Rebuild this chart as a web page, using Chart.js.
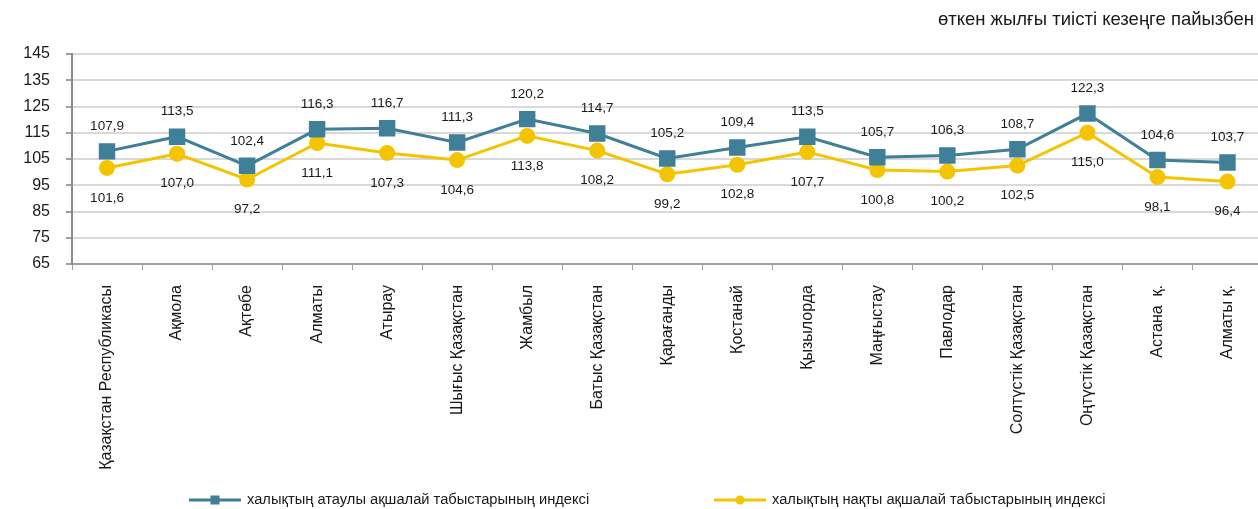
<!DOCTYPE html>
<html><head><meta charset="utf-8">
<script src="https://cdn.jsdelivr.net/npm/chart.js@4.4.1/dist/chart.umd.min.js"></script>
<style>
html,body{margin:0;padding:0;overflow:hidden;background:#fff}
#wrap{position:relative;width:1275px;height:509px}
</style></head>
<body><div id="wrap"><canvas id="c"></canvas></div>
<script>
const categories = ['Қазақстан Республикасы','Ақмола','Ақтөбе','Алматы','Атырау','Шығыс Қазақстан','Жамбыл','Батыс Қазақстан','Қарағанды','Қостанай','Қызылорда','Маңғыстау','Павлодар','Солтүстік Қазақстан','Оңтүстік Қазақстан','Астана  қ.','Алматы қ.'];
const nominalIndex = [107.9,113.5,102.4,116.3,116.7,111.3,120.2,114.7,105.2,109.4,113.5,105.7,106.3,108.7,122.3,104.6,103.7];
const realIndex = [101.6,107.0,97.2,111.1,107.3,104.6,113.8,108.2,99.2,102.8,107.7,100.8,100.2,102.5,115.0,98.1,96.4];
const yMin = 65, yMax = 145, yStep = 10;
const seriesNames = ['халықтың атаулы ақшалай табыстарының индексі','халықтың нақты ақшалай табыстарының индексі'];
const unitNote = 'өткен жылғы тиісті кезеңге пайызбен';

const FONT = "'Liberation Sans', Arial, sans-serif";
const BLUE = '#3f7f97';
const YELLOW = '#f5c400';

const fmt = v => v.toFixed(1).replace('.', ',');

const labelPlugin = {
  id: 'valueLabels',
  afterDatasetsDraw(chart) {
    const ctx = chart.ctx;
    ctx.save();
    ctx.font = '13.5px ' + FONT;
    ctx.fillStyle = '#1a1a1a';
    ctx.textAlign = 'center';
    ctx.textBaseline = 'middle';
    chart.data.datasets.forEach((ds, di) => {
      const meta = chart.getDatasetMeta(di);
      meta.data.forEach((pt, i) => {
        const off = di === 0 ? -25 : 30;
        ctx.fillText(fmt(ds.data[i]), pt.x, pt.y + off);
      });
    });
    ctx.restore();
  }
};

const extrasPlugin = {
  id: 'extras',
  afterDraw(chart) {
    const ctx = chart.ctx;
    ctx.save();
    ctx.font = '18.5px ' + FONT;
    ctx.fillStyle = '#1a1a1a';
    ctx.textAlign = 'right';
    ctx.textBaseline = 'alphabetic';
    ctx.fillText(unitNote, 1254, 25);
    const items = [{x: 189, ds: 0}, {x: 714, ds: 1}];
    const y = 500;
    ctx.font = '14.7px ' + FONT;
    ctx.textAlign = 'left';
    ctx.textBaseline = 'middle';
    items.forEach(it => {
      const ds = chart.data.datasets[it.ds];
      ctx.strokeStyle = ds.borderColor;
      ctx.lineWidth = 3;
      ctx.beginPath();
      ctx.moveTo(it.x, y); ctx.lineTo(it.x + 52, y); ctx.stroke();
      ctx.fillStyle = ds.borderColor;
      const cx = it.x + 26;
      if (ds.pointStyle === 'rect') {
        ctx.fillRect(cx - 4.5, y - 4.5, 9, 9);
      } else {
        ctx.beginPath(); ctx.arc(cx, y, 4.5, 0, Math.PI * 2); ctx.fill();
      }
      ctx.fillStyle = '#1a1a1a';
      ctx.fillText(seriesNames[it.ds], it.x + 58, y);
    });
    ctx.restore();
  }
};

new Chart(document.getElementById('c'), {
  type: 'line',
  data: {
    labels: categories,
    datasets: [
      {label: seriesNames[0], data: nominalIndex, borderColor: BLUE, backgroundColor: BLUE,
       borderWidth: 3, pointStyle: 'rect', pointRadius: 9.5, pointHoverRadius: 9.5, tension: 0},
      {label: seriesNames[1], data: realIndex, borderColor: YELLOW, backgroundColor: YELLOW,
       borderWidth: 3, pointStyle: 'circle', pointRadius: 6.5, pointHoverRadius: 6.5, tension: 0}
    ]
  },
  options: {
    responsive: true,
    maintainAspectRatio: false,
    animation: false,
    layout: {padding: {top: 54, right: 3, bottom: 30, left: 0}},
    plugins: {legend: {display: false}, title: {display: false}, tooltip: {enabled: false}},
    scales: {
      x: {
        offset: true,
        afterFit: s => { s.height = 215; },
        grid: {offset: true, drawOnChartArea: false, drawTicks: true, tickLength: 6, tickColor: '#a0a0a0', lineWidth: 1},
        border: {color: '#a0a0a0', width: 2},
        ticks: {minRotation: 90, maxRotation: 90, autoSkip: false, padding: 15, color: '#1a1a1a', font: {family: FONT, size: 16}}
      },
      y: {
        min: yMin, max: yMax,
        afterFit: s => { s.width = 72; },
        grid: {color: '#d9d9d9', lineWidth: 2, tickColor: '#a0a0a0', tickLength: 6},
        border: {color: '#8c8c8c', width: 2},
        ticks: {stepSize: yStep, padding: 16, color: '#1a1a1a', font: {family: FONT, size: 16}}
      }
    }
  },
  plugins: [labelPlugin, extrasPlugin]
});
</script>
</body></html>
